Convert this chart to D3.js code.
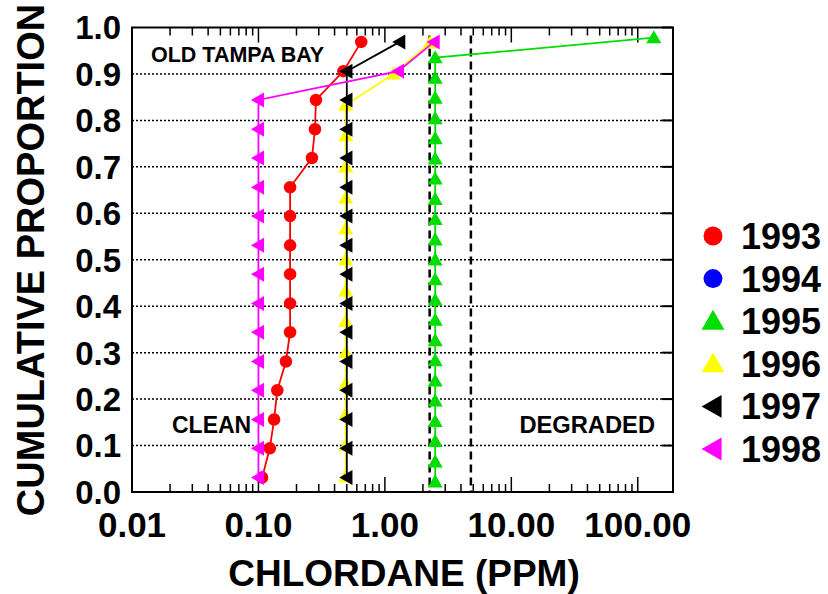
<!DOCTYPE html>
<html>
<head>
<meta charset="utf-8">
<script src="https://cdn.jsdelivr.net/npm/d3@7"></script>
<style>
  body { margin: 0; background: #fff; }
  text { font-family: "Liberation Sans", Arial, sans-serif; font-weight: bold; }
</style>
</head>
<body>
<div id="chart"></div>
<script>
// Chlordane cumulative distributions, Old Tampa Bay
const years = ['1993', '1994', '1995', '1996', '1997', '1998'];
const colors = ['#ff0000', '#0000ff', '#00dd00', '#ffff00', '#000000', '#ff00ff'];
const shapes = ['circle', 'circle', 'up', 'up', 'left', 'left'];

const p16 = [0.031, 0.094, 0.156, 0.219, 0.281, 0.344, 0.406, 0.469, 0.531, 0.594, 0.656, 0.719, 0.781, 0.844, 0.906, 0.969];
const p15 = [0.033, 0.100, 0.167, 0.233, 0.300, 0.367, 0.433, 0.500, 0.567, 0.633, 0.700, 0.767, 0.833, 0.900, 0.967];
const p23 = [0.022, 0.065, 0.109, 0.152, 0.196, 0.239, 0.283, 0.326, 0.370, 0.413, 0.457, 0.500,
             0.543, 0.587, 0.630, 0.674, 0.717, 0.761, 0.804, 0.848, 0.891, 0.935, 0.978];

const chl1993 = [0.107, 0.123, 0.133, 0.141, 0.165, 0.178, 0.178, 0.178, 0.178, 0.178, 0.178, 0.265, 0.28, 0.285, 0.47, 0.65];
const chl1994 = [];
const chl1995 = [2.5, 2.5, 2.5, 2.5, 2.5, 2.5, 2.5, 2.5, 2.5, 2.5, 2.5, 2.5,
                 2.5, 2.5, 2.5, 2.5, 2.5, 2.5, 2.5, 2.5, 2.5, 2.5, 134];
const chl1996 = [0.49, 0.49, 0.49, 0.49, 0.49, 0.49, 0.49, 0.49, 0.49, 0.49, 0.49, 0.49, 0.49, 1.17, 2.28];
const chl1997 = [0.5, 0.5, 0.5, 0.5, 0.5, 0.5, 0.5, 0.5, 0.5, 0.5, 0.5, 0.5, 0.5, 0.5, 0.5, 1.31];
const chl1998 = [0.1, 0.1, 0.1, 0.1, 0.1, 0.1, 0.1, 0.1, 0.1, 0.1, 0.1, 0.1, 0.1, 0.1, 1.28, 2.45];

const xTicks = [0.01, 0.1, 1, 10, 100];
const yTicks = [0, 0.1, 0.2, 0.3, 0.4, 0.5, 0.6, 0.7, 0.8, 0.9, 1.0];
const guidelines = [2.26, 4.79];

const series = [
  { year: '1993', x: chl1993, p: p16 },
  { year: '1994', x: chl1994, p: [] },
  { year: '1995', x: chl1995, p: p23 },
  { year: '1996', x: chl1996, p: p15 },
  { year: '1997', x: chl1997, p: p16 },
  { year: '1998', x: chl1998, p: p16 }
];

const width = 828, height = 594;
const plotLeft = 132, plotRight = 673, plotTop = 27.5, plotBottom = 492;

const x = d3.scaleLog().domain([0.01, 190]).range([plotLeft, plotRight]);
const y = d3.scaleLinear().domain([0, 1]).range([plotBottom, plotTop]);

const svg = d3.select('#chart').append('svg')
  .attr('width', width).attr('height', height);

// dotted grid lines
svg.append('g').selectAll('line')
  .data(yTicks.filter(d => d > 0 && d < 1))
  .join('line')
    .attr('x1', plotLeft).attr('x2', plotRight)
    .attr('y1', d => y(d)).attr('y2', d => y(d))
    .attr('stroke', '#000').attr('stroke-width', 1.5)
    .attr('stroke-dasharray', '2,2');

// right side ticks
svg.append('g').selectAll('line')
  .data(yTicks)
  .join('line')
    .attr('x1', plotRight - 11).attr('x2', plotRight)
    .attr('y1', d => y(d)).attr('y2', d => y(d))
    .attr('stroke', '#000').attr('stroke-width', 2);

// log ticks top and bottom, pointing in
const allTicks = x.ticks().filter(d => d >= 0.01 && d <= 190);
const isMajor = d => Math.abs(Math.log10(d) - Math.round(Math.log10(d))) < 1e-6;
svg.append('g').selectAll('line')
  .data(allTicks)
  .join('line')
    .attr('x1', d => x(d)).attr('x2', d => x(d))
    .attr('y1', plotBottom).attr('y2', d => plotBottom - (isMajor(d) ? 15 : 8))
    .attr('stroke', '#000').attr('stroke-width', 1.5);
svg.append('g').selectAll('line')
  .data(allTicks)
  .join('line')
    .attr('x1', d => x(d)).attr('x2', d => x(d))
    .attr('y1', plotTop).attr('y2', d => plotTop + (isMajor(d) ? 15 : 8))
    .attr('stroke', '#000').attr('stroke-width', 1.5);

// guideline dashed lines
svg.append('g').selectAll('line')
  .data(guidelines)
  .join('line')
    .attr('x1', d => x(d)).attr('x2', d => x(d))
    .attr('y1', plotTop + 8).attr('y2', plotBottom)
    .attr('stroke', '#000').attr('stroke-width', 2.5)
    .attr('stroke-dasharray', '8,5');

// frame
svg.append('rect')
  .attr('x', plotLeft).attr('y', plotTop)
  .attr('width', plotRight - plotLeft).attr('height', plotBottom - plotTop)
  .attr('fill', 'none').attr('stroke', '#000').attr('stroke-width', 2);

// marker shapes
function markerPath(shape, s) {
  if (shape === 'up') return `M0,${-s * 0.6}L${s * 0.6},${s * 0.45}L${-s * 0.6},${s * 0.45}Z`;
  if (shape === 'left') return `M${-s * 0.6},0L${s * 0.45},${-s * 0.6}L${s * 0.45},${s * 0.6}Z`;
  return null;
}

function drawMarker(g, shape, color, size) {
  if (shape === 'circle') {
    g.append('circle').attr('r', size / 2).attr('fill', color);
  } else {
    g.append('path').attr('d', markerPath(shape, size)).attr('fill', color);
  }
}

const line = d3.line().x(d => x(d[0])).y(d => y(d[1]));

series.forEach((s, i) => {
  const pts = s.x.map((v, j) => [v, s.p[j]]);
  if (!pts.length) return;
  const g = svg.append('g');
  g.append('path')
    .datum(pts)
    .attr('d', line)
    .attr('fill', 'none')
    .attr('stroke', colors[i])
    .attr('stroke-width', 1.8);
  pts.forEach(d => {
    const m = g.append('g').attr('transform', `translate(${x(d[0])},${y(d[1])})`);
    drawMarker(m, shapes[i], colors[i], 12.5);
  });
});

// y tick labels
svg.append('g').selectAll('text')
  .data(yTicks)
  .join('text')
    .attr('x', 121).attr('y', d => y(d))
    .attr('dy', '0.36em')
    .attr('text-anchor', 'end')
    .attr('font-size', 33)
    .text(d => d3.format('.1f')(d));

// x tick labels
svg.append('g').selectAll('text')
  .data(xTicks)
  .join('text')
    .attr('x', d => x(d)).attr('y', 537)
    .attr('text-anchor', 'middle')
    .attr('font-size', 35)
    .text(d => d3.format('.2f')(d));

// axis titles
svg.append('text')
  .attr('x', 404).attr('y', 586)
  .attr('text-anchor', 'middle')
  .attr('font-size', 37)
  .text('CHLORDANE (PPM)');

svg.append('text')
  .attr('transform', 'translate(44,260) rotate(-90)')
  .attr('text-anchor', 'middle')
  .attr('font-size', 38)
  .text('CUMULATIVE PROPORTION');

// annotations
svg.append('text').attr('x', 151).attr('y', 62).attr('font-size', 21.5).text('OLD TAMPA BAY');
svg.append('text').attr('x', 172).attr('y', 433).attr('font-size', 23).text('CLEAN');
svg.append('text').attr('x', 655).attr('y', 433).attr('text-anchor', 'end').attr('font-size', 23.7).text('DEGRADED');

// legend
const legend = svg.append('g').selectAll('g')
  .data(years)
  .join('g')
    .attr('transform', (d, i) => `translate(713,${236 + i * 42.6})`);
legend.each(function(d, i) {
  drawMarker(d3.select(this), shapes[i], colors[i], 19);
});
legend.append('text')
  .attr('x', 28).attr('dy', '0.36em')
  .attr('font-size', 36)
  .text(d => d);
</script>
</body>
</html>
